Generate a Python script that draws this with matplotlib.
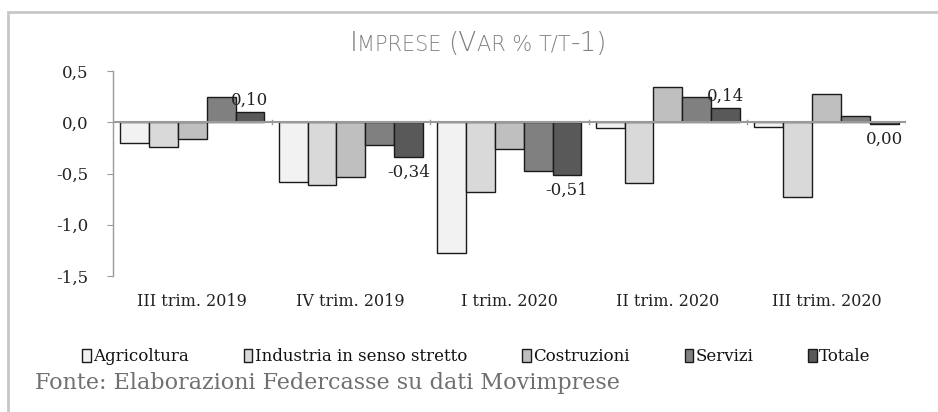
import matplotlib
matplotlib.use("Agg")
import matplotlib.pyplot as plt
import numpy as np
from matplotlib.patches import Rectangle
from matplotlib.ticker import FixedLocator, FuncFormatter

categories = ["III trim. 2019", "IV trim. 2019", "I trim. 2020", "II trim. 2020", "III trim. 2020"]
series_names = ["Agricoltura", "Industria in senso stretto", "Costruzioni", "Servizi", "Totale"]
agricoltura = [-0.20, -0.58, -1.28, -0.06, -0.05]
industria = [-0.24, -0.61, -0.68, -0.59, -0.73]
costruzioni = [-0.16, -0.53, -0.26, 0.34, 0.28]
servizi = [0.25, -0.22, -0.48, 0.25, 0.06]
totale = [0.10, -0.34, -0.51, 0.14, -0.02]
totale_labels = ["0,10", "-0,34", "-0,51", "0,14", "0,00"]
colors = ["#f2f2f2", "#d9d9d9", "#bfbfbf", "#808080", "#595959"]

plt.rcParams['font.family'] = ['DejaVu Serif']

fig = plt.figure(figsize=(9.38, 4.12), dpi=100)
fig.patch.set_facecolor("white")
fig.patches.append(Rectangle((0.008, -0.05), 1.2, 1.02, transform=fig.transFigure,
                             fill=False, edgecolor="#c8c8c8", linewidth=2.0))

ax = fig.add_axes([0.1205, 0.330, 0.845, 0.4977])
data = [agricoltura, industria, costruzioni, servizi, totale]
x = np.arange(len(categories))
bw = 0.182
for i, (vals, c, name) in enumerate(zip(data, colors, series_names)):
    offs = (i - 2) * bw
    ax.bar(x + offs, vals, width=bw, color=c, edgecolor="#1a1a1a", linewidth=1.0, label=name, zorder=2)

for xi, v, lab in zip(x, totale, totale_labels):
    xpos = xi + 2 * bw
    if v >= 0:
        ax.annotate(lab, (xpos, v), xytext=(0, 2), textcoords="offset points",
                    ha="center", va="bottom", fontsize=12, color="#222222")
    else:
        ax.annotate(lab, (xpos, v), xytext=(0, -5), textcoords="offset points",
                    ha="center", va="top", fontsize=12, color="#222222")

ax.set_xlim(-0.5, len(categories) - 0.5)
ax.set_ylim(-1.5, 0.5)
ax.yaxis.set_major_locator(FixedLocator([-1.5, -1.0, -0.5, 0.0, 0.5]))
ax.yaxis.set_major_formatter(FuncFormatter(lambda v, p: f"{v:.1f}".replace(".", ",")))
for s in ["top", "right", "bottom"]:
    ax.spines[s].set_visible(False)
ax.spines["left"].set_color("#9a9a9a")
ax.spines["left"].set_linewidth(1.0)
ax.axhline(0, color="#9a9a9a", linewidth=1.5, zorder=3)
for b in np.arange(0.5, len(categories), 1.0):
    ax.plot([b, b], [-0.02, 0.02], color="#9a9a9a", linewidth=1.0, zorder=3)
ax.tick_params(axis="y", direction="out", length=4, color="#9a9a9a", labelsize=12, pad=14, labelcolor="#222222")
ax.set_xticks(x)
ax.set_xticklabels(categories, fontsize=11.5, color="#222222")
ax.tick_params(axis="x", length=0, pad=12)

# Title in small caps (built from large and small pieces)
pieces = [("I", 19), ("MPRESE ", 15), ("(V", 19), ("AR % ", 15), ("T/T", 15), ("-1)", 19)]
title_kw = dict(color="#808080", family=["DejaVu Sans"], fontweight="light")
renderer = fig.canvas.get_renderer()
widths = []
for s, fs in pieces:
    t = fig.text(0, 0, s, fontsize=fs, **title_kw)
    widths.append(t.get_window_extent(renderer).width)
    t.remove()
total_w = sum(widths)
x0 = 0.510 * fig.bbox.width - total_w / 2
ybase = 0.877 * fig.bbox.height
for (s, fs), w in zip(pieces, widths):
    fig.text(x0 / fig.bbox.width, ybase / fig.bbox.height, s, fontsize=fs, ha="left", va="baseline", **title_kw)
    x0 += w

leg = fig.legend(loc="center", bbox_to_anchor=(0.508, 0.134), ncol=5, frameon=False,
                 fontsize=12, handlelength=0.5, handleheight=0.75, handletextpad=0.15,
                 columnspacing=3.3)
for t in leg.get_texts():
    t.set_color("#111111")

fig.text(0.037, 0.071, "Fonte: Elaborazioni Federcasse su dati Movimprese", ha="left", va="center",
         fontsize=16, color="#707070")

fig.savefig("out.png", dpi=100)
